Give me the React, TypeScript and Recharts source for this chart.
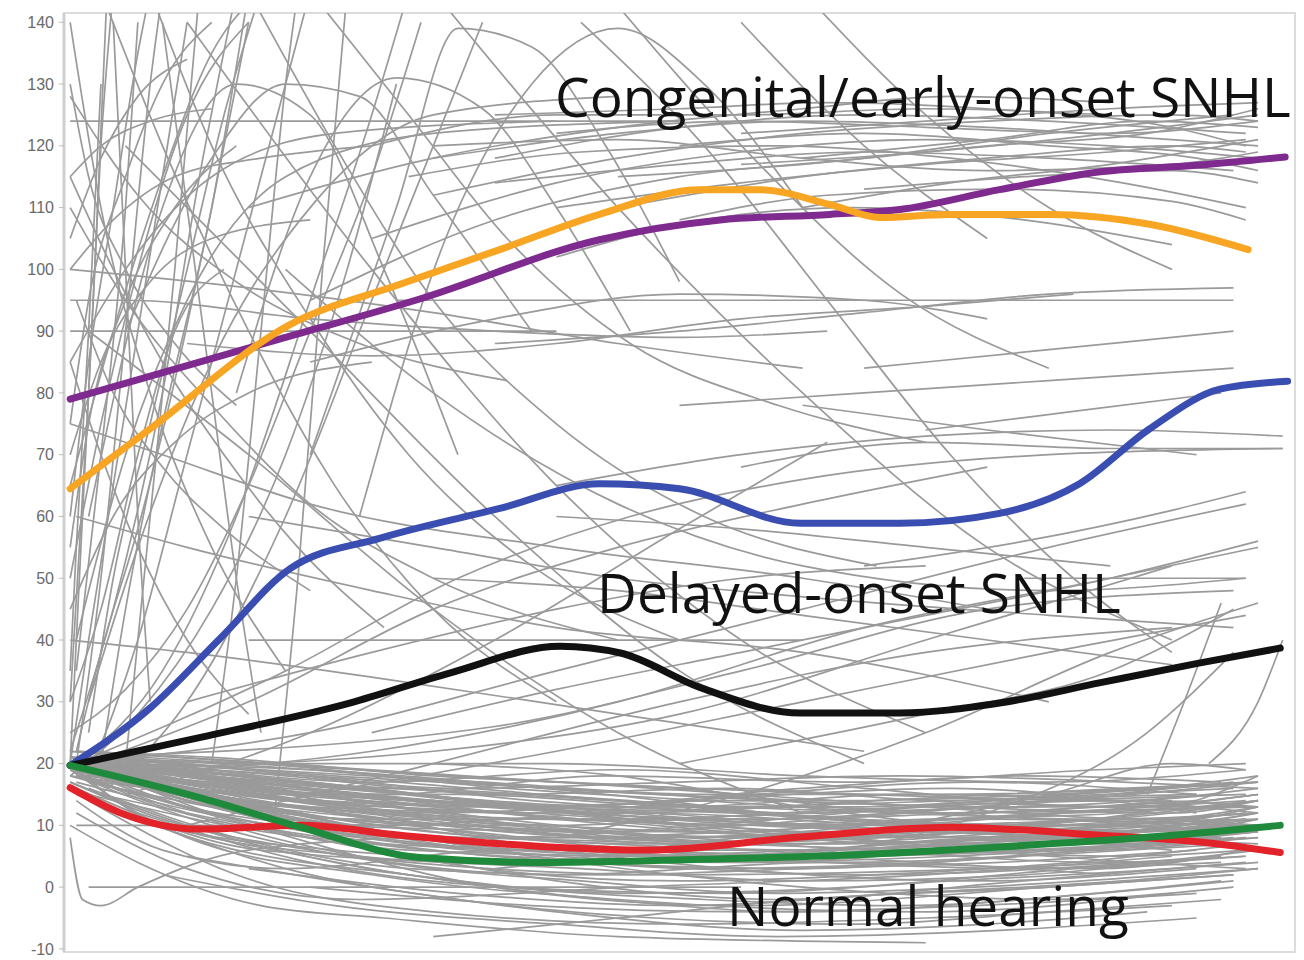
import { LineChart, Line, XAxis, YAxis, ReferenceArea } from 'recharts';

type P = [number, number];

// y-axis ticks (dB HL)
const yTicks = [-10, 0, 10, 20, 30, 40, 50, 60, 70, 80, 90, 100, 110, 120, 130, 140];

// mean trajectories, x is a 0-100 time scale (no labels on the reference)
const purpleMean: P[] = [[0.5, 79], [17.5, 88.7], [28.9, 95.2], [43.5, 104.8], [53.3, 108], [62.2, 108.9], [67.9, 109.7], [76, 112.9], [84.2, 115.8], [92.3, 116.9], [99.2, 118.2]];
const orangeMean: P[] = [[0.5, 64.5], [7, 74.2], [18.4, 91.1], [27.3, 97.6], [35.4, 103.2], [43.5, 108.9], [51.7, 112.9], [56.5, 112.9], [62.2, 110.5], [66.3, 108.4], [71.9, 108.9], [80.1, 108.9], [88.2, 107.3], [96.2, 103.2]];
const blueMean: P[] = [[0.5, 19.7], [7, 29], [12.7, 40.3], [18.4, 51.6], [25.7, 56.5], [35.4, 61.3], [43.5, 65.3], [50, 64.5], [59.8, 58.9], [67.9, 58.9], [76, 60.5], [82.5, 65.3], [88.2, 74.2], [93.9, 80.6], [99.4, 81.9]];
const blackMean: P[] = [[0.5, 19.7], [11, 24.2], [23.2, 29.8], [31.4, 34.7], [40.3, 39], [45.2, 37.9], [51.7, 32.3], [59.8, 28.2], [67.9, 28.2], [76, 29.8], [84.2, 33.1], [92.3, 36.3], [98.8, 38.7]];
const greenMean: P[] = [[0.5, 19.7], [11, 14.5], [19.2, 9.7], [28.9, 4.8], [39.5, 4], [51.7, 4.5], [63.8, 5.2], [76, 6.5], [88.2, 8.1], [98.8, 10]];
const redMean: P[] = [[0.5, 16.1], [4.5, 12.1], [11, 9.4], [19.2, 10], [27.3, 8.4], [39.5, 6.5], [47.6, 6], [59.8, 8.1], [72, 9.7], [84.2, 8.4], [92.3, 7.3], [98.8, 5.6]];

// individual trajectories: normal-hearing bundle
const normalLines: P[][] = [
  [[0.5, 20], [15, 17], [35, 12], [60, 10], [80, 12], [96, 14]],
  [[0.5, 20], [12, 14], [30, 8], [55, 5], [78, 6], [95, 8]],
  [[0.5, 19], [10, 12], [28, 4], [50, 2], [75, 3], [96, 5]],
  [[0.5, 21], [15, 20], [40, 17], [65, 15], [85, 14], [97, 16]],
  [[1, 18], [15, 10], [35, 0], [55, -3], [80, 0], [95, 2]],
  [[1, 20], [20, 18], [45, 14], [70, 10], [90, 9], [97, 11]],
  [[0.5, 22], [18, 20], [40, 20], [60, 18], [80, 17], [96, 19]],
  [[2, 15], [20, 8], [40, 6], [62, 8], [82, 10], [96, 9]],
  [[1, 20], [12, 16], [30, 12], [50, 14], [72, 16], [92, 12]],
  [[0.5, 19], [10, 8], [25, 2], [45, -2], [70, -4], [90, -1]],
  [[1, 21], [20, 15], [45, 9], [65, 6], [85, 4], [97, 6]],
  [[3, 17], [20, 13], [40, 10], [58, 12], [80, 14], [96, 15]],
  [[0.5, 20], [8, 10], [22, 6], [42, 4], [65, 2], [88, 4]],
  [[2, 22], [25, 19], [48, 16], [70, 13], [88, 11], [97, 13]],
  [[1, 16], [16, 6], [35, 4], [55, 8], [75, 11], [94, 10]],
  [[0.5, 20], [14, 18], [32, 14], [52, 10], [74, 8], [96, 10]],
  [[1, 19], [18, 12], [38, 5], [60, 0], [80, -2], [95, 0]],
  [[4, 20], [24, 16], [46, 12], [66, 14], [86, 16], [97, 17]],
  [[0.5, 21], [10, 17], [26, 15], [44, 18], [64, 17], [84, 19], [96, 20]],
  [[2, 14], [14, 2], [30, -4], [50, -6], [70, -5], [90, -3]],
  [[1, 20], [22, 10], [42, 6], [64, 4], [84, 6], [97, 8]],
  [[0.5, 18], [15, 14], [36, 9], [58, 7], [78, 9], [96, 12]],
  [[3, 20], [20, 19], [44, 15], [62, 11], [82, 9], [95, 7]],
  [[1, 22], [12, 21], [30, 18], [50, 16], [70, 12], [92, 14]],
  [[0.5, 20], [10, 14], [26, 10], [46, 12], [66, 10], [90, 6]],
  [[2, 19], [18, 14], [38, 12], [58, 9], [80, 5], [96, 3]],
  [[0.5, 17], [8, 11], [20, 6], [40, 2], [62, 4], [84, 3], [96, 6]],
  [[5, 21], [25, 17], [45, 19], [65, 16], [85, 13], [97, 15]],
  [[1, 20], [20, 16], [40, 13], [60, 16], [78, 18], [94, 17]],
  [[1, 12], [10, 3], [24, -2], [46, 0], [70, 2], [90, 5]],
  [[0.5, 20], [16, 16], [34, 8], [54, 3], [74, 1], [92, 3]],
  [[2, 18], [22, 12], [46, 8], [68, 9], [88, 11], [97, 10]],
  [[0.5, 10], [6, 4], [16, -3], [26, -5], [45, -8], [70, -9]],
  [[3, 20], [30, 14], [55, 11], [75, 12], [96, 13]],
  [[1, 19], [15, 15], [32, 15], [52, 13], [72, 14], [95, 16]],
  [[0.5, 21], [25, 16], [50, 10], [75, 7], [97, 9]],
  [[2, 20], [12, 12], [28, 6], [50, 5], [72, 7], [94, 9]],
  [[1, 14], [8, 6], [18, 3], [36, 6], [60, 5], [85, 2]],
  [[0.5, 20], [20, 14], [38, 10], [58, 7], [80, 8], [97, 12]],
  [[4, 18], [22, 8], [40, 1], [58, -2], [78, 1], [96, 4]],
  [[0.5, 8], [1.5, -2], [3, -3], [6, 0], [15, 6], [30, 8], [50, 7]],
  [[10, 5], [25, 0], [40, -4], [60, -7], [75, -6], [88, -4]],
  [[30, 20], [45, 18], [60, 13], [75, 10], [90, 13], [97, 18]],
  [[35, 3], [50, 6], [65, 9], [80, 15], [90, 20], [96, 19]],
  [[2, 0], [55, 0]],
  [[1, 10], [40, 10]],
];

const normalLines2: P[][] = [
  [[0.5, 20], [10, 16], [22, 11], [38, 8], [55, 9], [72, 11], [88, 13], [97, 15]],
  [[1, 19], [14, 13], [28, 10], [44, 7], [62, 6], [80, 8], [96, 11]],
  [[0.5, 21], [8, 18], [20, 14], [36, 13], [54, 12], [72, 10], [90, 12], [97, 14]],
  [[2, 20], [16, 15], [32, 11], [50, 9], [68, 8], [86, 9], [97, 12]],
  [[0.5, 18], [12, 12], [26, 7], [42, 4], [60, 3], [78, 5], [95, 7]],
  [[1, 20], [18, 17], [36, 15], [54, 13], [72, 12], [90, 14]],
  [[3, 19], [20, 15], [38, 11], [56, 11], [74, 13], [92, 16], [97, 17]],
  [[0.5, 20], [10, 13], [24, 8], [40, 6], [58, 6], [76, 7], [94, 8]],
  [[1, 21], [16, 19], [34, 17], [52, 15], [70, 15], [88, 16], [97, 18]],
  [[0.5, 19], [14, 15], [30, 13], [48, 10], [66, 7], [84, 6], [96, 8]],
  [[2, 17], [18, 11], [34, 8], [52, 10], [70, 13], [88, 14], [97, 13]],
  [[0.5, 20], [12, 17], [28, 16], [46, 14], [64, 11], [82, 10], [96, 12]],
  [[1, 16], [10, 9], [24, 5], [42, 3], [60, 1], [78, 2], [94, 5]],
  [[4, 21], [22, 18], [40, 16], [58, 14], [76, 13], [94, 15]],
  [[0.5, 20], [18, 14], [36, 10], [54, 8], [72, 10], [90, 11], [97, 9]],
  [[2, 20], [14, 14], [30, 9], [48, 7], [66, 8], [84, 11], [97, 14]],
  [[1, 18], [20, 13], [40, 12], [60, 13], [80, 11], [96, 10]],
  [[0.5, 22], [15, 19], [32, 16], [50, 17], [68, 18], [86, 17], [97, 16]],
  [[3, 15], [18, 9], [36, 5], [54, 4], [72, 5], [90, 7]],
  [[1, 20], [12, 15], [26, 12], [44, 11], [62, 12], [80, 13], [96, 13]],
  [[0.5, 19], [16, 12], [34, 6], [52, 3], [70, 4], [88, 7], [97, 9]],
  [[2, 21], [20, 18], [38, 14], [56, 12], [74, 10], [92, 9], [97, 10]],
  [[0.5, 20], [10, 15], [26, 11], [44, 9], [62, 11], [80, 14], [95, 17]],
  [[1, 17], [14, 11], [30, 8], [48, 8], [66, 9], [84, 8], [97, 7]],
  [[5, 20], [24, 15], [42, 12], [60, 10], [78, 9], [96, 11]],
  [[0.5, 21], [12, 18], [28, 15], [46, 13], [64, 13], [82, 15], [97, 17]],
  [[1, 20], [16, 13], [32, 7], [50, 5], [68, 6], [86, 8], [96, 10]],
  [[2, 18], [20, 14], [38, 12], [56, 15], [74, 17], [92, 15]],
  [[0.5, 20], [14, 16], [30, 14], [48, 12], [66, 9], [84, 7], [97, 8]],
  [[6, 12], [20, 4], [36, 0], [54, -1], [72, 1], [90, 3], [97, 4]],
  [[1, 19], [18, 15], [36, 13], [54, 14], [72, 13], [90, 12], [97, 14]],
  [[0.5, 20], [8, 14], [22, 10], [40, 9], [58, 8], [76, 9], [94, 11]],
  [[3, 21], [18, 17], [34, 14], [52, 11], [70, 9], [88, 10], [97, 13]],
  [[1, 15], [12, 7], [28, 2], [46, -1], [64, 0], [82, 3], [96, 5]],
  [[0.5, 20], [20, 16], [40, 11], [60, 8], [80, 7], [97, 9]],
  [[2, 19], [16, 16], [32, 13], [50, 13], [68, 15], [86, 14], [97, 12]],
  [[8, 2], [22, -3], [40, -6], [58, -8], [76, -7], [92, -5]],
  [[20, 0], [38, -3], [56, -4], [74, -3], [92, -1]],
  [[30, -8], [45, -5], [60, -2], [80, 0], [95, 2]],
];

const normalLines3: P[][] = [
  [[0.5, 20], [12, 15], [26, 9], [40, 5], [56, 4], [72, 6], [88, 9], [97, 11]],
  [[1, 21], [14, 17], [30, 12], [46, 8], [62, 7], [78, 8], [94, 10]],
  [[0.5, 19], [8, 13], [20, 8], [34, 3], [50, 1], [66, 2], [82, 4], [96, 7]],
  [[2, 20], [18, 16], [34, 13], [50, 11], [66, 10], [82, 12], [97, 13]],
  [[0.5, 20], [16, 14], [32, 9], [48, 6], [64, 5], [80, 6], [96, 8]],
  [[1, 18], [12, 10], [26, 4], [42, 1], [58, -1], [74, 0], [90, 2], [97, 3]],
  [[3, 21], [20, 19], [36, 16], [52, 14], [68, 12], [84, 11], [97, 12]],
  [[0.5, 20], [10, 15], [24, 12], [38, 9], [54, 7], [70, 6], [86, 5], [96, 6]],
  [[1, 20], [18, 15], [34, 10], [50, 7], [66, 8], [82, 10], [97, 11]],
  [[0.5, 17], [10, 10], [22, 4], [36, 0], [52, -2], [68, -3], [84, -1], [95, 1]],
  [[2, 19], [14, 16], [28, 14], [44, 13], [60, 12], [76, 14], [92, 15]],
  [[0.5, 20], [14, 12], [28, 7], [44, 5], [60, 6], [76, 8], [92, 7], [97, 6]],
  [[1, 22], [16, 20], [32, 17], [48, 15], [64, 14], [80, 15], [96, 17]],
  [[0.5, 20], [8, 16], [18, 12], [32, 10], [48, 9], [64, 9], [80, 10], [97, 12]],
  [[3, 18], [16, 12], [30, 8], [46, 6], [62, 4], [78, 3], [94, 4]],
  [[1, 20], [20, 17], [38, 13], [56, 10], [72, 9], [88, 8], [97, 9]],
  [[0.5, 19], [12, 14], [24, 11], [38, 11], [54, 10], [70, 11], [86, 12], [97, 14]],
  [[2, 16], [14, 8], [28, 3], [44, 2], [60, 3], [76, 4], [92, 6]],
  [[0.5, 21], [18, 18], [36, 15], [54, 16], [70, 14], [86, 13], [97, 15]],
  [[1, 20], [10, 14], [22, 9], [36, 6], [52, 5], [68, 7], [84, 9], [96, 10]],
  [[5, 12], [18, 3], [32, -2], [48, -5], [64, -6], [80, -4], [94, -2]],
  [[12, 8], [28, 2], [44, -2], [60, -4], [78, -2], [94, 1]],
  [[15, 3], [32, -1], [50, -3], [68, -1], [86, 1], [97, 3]],
];

// individual trajectories: delayed / progressive losses
const delayedLines: P[][] = [
  [[0.5, 20], [20, 25], [40, 35], [60, 45], [80, 55], [96, 62]],
  [[1, 18], [25, 22], [45, 30], [65, 42], [85, 50], [97, 55]],
  [[2, 20], [15, 30], [30, 45], [45, 55], [60, 62], [75, 68]],
  [[0.5, 19], [30, 22], [50, 28], [70, 40], [90, 52]],
  [[5, 15], [20, 25], [35, 40], [50, 58], [62, 72]],
  [[1, 20], [18, 35], [32, 50], [46, 60], [60, 66], [80, 70], [99, 71]],
  [[10, 10], [30, 20], [50, 30], [70, 38], [90, 42]],
  [[0.5, 21], [35, 26], [55, 35], [75, 45], [95, 48]],
  [[20, 15], [40, 22], [60, 30], [80, 38], [96, 44]],
  [[40, 8], [55, 15], [70, 25], [85, 38], [97, 46]],
  [[60, 5], [75, 12], [88, 25], [95, 38]],
  [[50, 20], [70, 28], [85, 35], [95, 45]],
  [[88, 15], [91, 30], [94, 46]],
  [[93, 20], [97, 30], [99, 40]],
  [[15, 40], [60, 40]],
  [[78, 50], [96, 50]],
  [[40, 65], [55, 70], [70, 73], [85, 74], [99, 73]],
  [[50, 78], [65, 80], [80, 82], [95, 84]],
  [[65, 84], [80, 87], [95, 90]],
  [[70, 74], [82, 77], [94, 80]],
  [[55, 68], [70, 72], [85, 71], [99, 71]],
  [[60, 78], [75, 74], [92, 70]],
  [[65, 52], [78, 56], [90, 61], [96, 64]],
  [[40, 60], [55, 58], [70, 55], [85, 52]],
  [[10, 30], [25, 38], [40, 45], [55, 50], [70, 52]],
  [[25, 25], [40, 32], [55, 38], [70, 44], [85, 50], [97, 56]],
  [[30, 50], [45, 48], [60, 44], [75, 40], [90, 36]],
  [[15, 60], [30, 55], [45, 50], [60, 47], [80, 44], [95, 42]],
];

// individual trajectories: falling / arcing lines through the middle
const crossingLines: P[][] = [
  [[2, 90], [15, 70], [30, 45], [45, 25], [60, 12]],
  [[5, 120], [20, 90], [35, 60], [50, 35], [65, 20]],
  [[10, 140], [25, 100], [40, 65], [55, 40], [70, 25]],
  [[30, 145], [45, 110], [60, 80], [75, 55], [90, 40]],
  [[42, 140], [52, 120], [62, 95], [72, 70], [82, 50], [90, 38]],
  [[44, 145], [56, 118], [68, 96], [80, 84]],
  [[55, 140], [65, 120], [75, 105]],
  [[60, 145], [70, 125], [80, 110], [90, 100]],
  [[18, 100], [30, 80], [45, 62], [60, 52], [80, 48], [96, 50]],
  [[1, 60], [10, 55], [25, 48], [40, 42], [60, 38], [80, 30]],
  [[0.5, 40], [10, 38], [25, 34], [45, 28], [65, 22]],
  [[0.5, 75], [8, 70], [20, 62], [40, 55], [60, 50], [75, 45]],
  [[0.5, 140], [3, 110], [7, 80], [12, 55], [18, 35]],
  [[3, 145], [8, 120], [15, 90], [22, 65], [30, 45], [40, 30]],
  [[7, 145], [12, 120], [20, 92], [28, 70], [38, 52], [50, 40]],
  [[15, 145], [22, 120], [30, 95], [40, 75], [52, 60], [66, 52]],
  [[20, 145], [28, 125], [36, 105], [46, 88], [58, 78], [70, 72]],
  [[0.5, 128], [6, 112], [14, 98], [24, 88], [36, 82]],
  [[0.5, 110], [5, 95], [12, 78], [20, 62], [30, 50], [45, 40]],
  [[2, 60], [8, 110], [14, 130], [20, 125], [26, 100], [32, 70]],
  [[5, 90], [12, 118], [18, 130], [24, 128], [30, 112], [38, 90]],
  [[14, 80], [20, 115], [27, 131], [34, 126], [40, 110], [46, 90]],
  [[20, 70], [27, 110], [32, 139], [38, 136], [44, 120], [50, 98]],
  [[24, 60], [31, 105], [38, 130], [45, 139], [52, 130], [60, 110]],
  [[0.5, 95], [5, 95], [20, 92], [35, 90], [50, 89], [62, 90]],
  [[20, 85], [35, 92], [50, 96], [65, 95], [75, 92]],
  [[10, 88], [25, 86], [40, 88], [55, 92], [70, 94], [82, 96]],
  [[35, 88], [50, 90], [65, 93], [80, 96], [95, 97]],
  [[0.5, 100], [15, 97], [30, 93], [45, 88], [60, 84]],
  [[0.5, 90], [40, 90]],
  [[27, 95], [95, 95]],
];

// individual trajectories: early steep rise
const earlyLines: P[][] = [
  [[0.5, 20], [1.5, 60], [2.5, 100], [3.5, 145]],
  [[1, 20], [3, 50], [5, 90], [7, 130], [8, 145]],
  [[0.5, 22], [4, 45], [8, 80], [11, 115], [14, 145]],
  [[2, 18], [6, 40], [10, 70], [14, 100], [18, 130], [20, 145]],
  [[1, 20], [8, 35], [14, 60], [20, 95], [25, 125], [28, 145]],
  [[3, 15], [10, 30], [18, 60], [25, 95], [30, 120], [34, 140]],
  [[0.5, 30], [2, 80], [3, 120], [4, 145]],
  [[5, 20], [7, 60], [9, 100], [11, 145]],
  [[0.5, 65], [4, 90], [8, 115], [12, 135], [16, 145]],
  [[12, 20], [14, 50], [16, 90], [18, 130], [19, 145]],
  [[17, 10], [19, 50], [21, 100], [23, 145]],
  [[0.5, 50], [3, 75], [6, 100], [10, 125], [15, 140]],
  [[2, 30], [6, 55], [12, 85], [20, 110], [30, 125], [45, 128]],
  [[1, 40], [5, 70], [10, 95], [18, 115], [30, 122], [50, 124]],
  [[0.5, 85], [5, 100], [12, 115], [22, 122], [40, 124]],
  [[0.5, 30], [3, 45], [6, 70], [9, 90], [13, 100]],
  [[0.5, 45], [4, 60], [9, 72], [15, 80], [25, 85]],
  [[0.5, 55], [2, 75], [5, 95], [9, 110], [14, 120]],
  [[0.5, 70], [3, 85], [7, 98], [12, 105], [20, 108]],
  [[0.5, 100], [4, 108], [9, 115], [16, 118], [25, 120]],
  [[0.5, 115], [3, 120], [7, 124], [12, 126]],
  [[1, 35], [3, 70], [5, 110], [6, 140]],
  [[0.5, 25], [5, 32], [10, 45], [15, 65], [20, 90], [25, 115], [29, 140]],
  [[0.5, 20], [2, 40], [4, 65], [6, 90], [8, 115], [10, 140]],
  [[1, 22], [3, 38], [6, 58], [9, 82], [12, 110], [15, 140]],
  [[0.5, 18], [6, 28], [12, 45], [18, 70], [23, 100], [27, 130]],
  [[2, 25], [4, 50], [7, 75], [10, 100], [13, 125], [16, 145]],
  [[0.5, 35], [1, 55], [2, 90], [3, 130]],
  [[3, 20], [5, 45], [8, 75], [12, 110], [15, 145]],
  [[0.5, 60], [2, 85], [4, 110], [6, 135], [7, 145]],
  [[0.5, 75], [2, 95], [5, 115], [8, 130], [12, 140]],
  [[0.5, 105], [3, 118], [6, 128], [10, 134]],
  [[0.5, 130], [2, 115], [5, 100], [9, 88], [14, 78]],
  [[1, 95], [4, 80], [8, 68], [13, 58], [20, 48]],
  [[0.5, 85], [3, 70], [6, 55], [10, 40], [15, 28]],
  [[0.5, 115], [4, 100], [8, 85], [13, 70], [19, 55], [26, 42]],
  [[8, 140], [10, 110], [12, 80], [14, 50], [16, 25]],
  [[4, 140], [5, 100], [6, 60], [7, 30]],
];

// individual trajectories: congenital plateau
const plateauLines: P[][] = [
  [[0.5, 124], [50, 124]],
  [[30, 112], [45, 118], [60, 122], [75, 124], [90, 125], [97, 124]],
  [[35, 118], [50, 123], [65, 125], [80, 124], [96, 122]],
  [[25, 105], [40, 114], [55, 119], [70, 121], [85, 120], [97, 118]],
  [[30, 120], [45, 121], [60, 118], [75, 116], [90, 117], [97, 119]],
  [[40, 110], [55, 114], [70, 117], [85, 119], [96, 121]],
  [[20, 95], [35, 108], [50, 115], [65, 118], [80, 122], [95, 125]],
  [[35, 125], [50, 126], [62, 127], [75, 126], [90, 123], [96, 120]],
  [[45, 115], [60, 117], [75, 120], [88, 122], [97, 126]],
  [[28, 115], [42, 119], [58, 120], [72, 118], [86, 114], [96, 110]],
  [[50, 108], [62, 112], [76, 113], [90, 111], [96, 108]],
  [[60, 118], [75, 121], [88, 124], [97, 123]],
  [[15, 110], [30, 118], [45, 123], [60, 126], [72, 128], [85, 127]],
  [[55, 122], [70, 124], [85, 126], [97, 127]],
  [[65, 113], [78, 115], [90, 116], [97, 114]],
  [[40, 102], [52, 108], [64, 110], [78, 108], [90, 104]],
  [[30, 118], [45, 122], [60, 124], [75, 123], [90, 121], [97, 120]],
  [[40, 122], [55, 124], [70, 123], [85, 122], [97, 124]],
  [[45, 110], [60, 115], [75, 118], [90, 120], [96, 119]],
  [[35, 114], [50, 117], [65, 119], [80, 118], [95, 116]],
  [[50, 120], [65, 122], [80, 120], [92, 118], [97, 116]],
  [[55, 117], [70, 119], [85, 122], [97, 125]],
  [[25, 120], [40, 125], [55, 125], [70, 126], [85, 125]],
  [[60, 110], [72, 114], [85, 117], [97, 121]],
];

const toPts = (line: P[]) => line.map(([x, y]) => ({ x, y }));

const allGray = [...normalLines, ...normalLines2, ...normalLines3, ...delayedLines, ...crossingLines, ...earlyLines, ...plateauLines];

const means = [
  { data: purpleMean, color: '#7f2a8e' },
  { data: orangeMean, color: '#f7a522' },
  { data: blueMean, color: '#3a4db0' },
  { data: blackMean, color: '#111111' },
  { data: redMean, color: '#e3232a' },
  { data: greenMean, color: '#1f8a3b' },
];

const App = () => {
  return (
    <div style={{ position: 'absolute', left: 0, top: 0, width: 1304, height: 960, background: '#fff' }}>
      <LineChart width={1304} height={960} margin={{ top: 13, right: 9, bottom: 8, left: 0 }}>
        <XAxis type="number" dataKey="x" domain={[0, 100]} hide allowDataOverflow />
        <YAxis
          type="number"
          domain={[-10.5, 141.5]}
          ticks={yTicks}
          interval={0}
          allowDataOverflow
          width={64}
          tickSize={5}
          tickMargin={5}
          axisLine={{ stroke: '#cfcfcf', strokeWidth: 3 }}
          tickLine={{ stroke: '#bdbdbd' }}
          tick={{ fill: '#6a6a6a', fontSize: 16, fontFamily: 'Liberation Sans, Arial, sans-serif' }}
        />
        <ReferenceArea x1={0} x2={100} y1={-10.5} y2={141.5} fill="none" stroke="#dcdcdc" strokeWidth={2} />
        {allGray.map((line, i) => (
          <Line
            key={'g' + i}
            data={toPts(line)}
            dataKey="y"
            type="monotone"
            stroke="#9a9a9a"
            strokeWidth={1.7}
            dot={false}
            activeDot={false}
            isAnimationActive={false}
          />
        ))}
        {means.map((m, i) => (
          <Line
            key={'m' + i}
            data={toPts(m.data)}
            dataKey="y"
            type="monotone"
            stroke={m.color}
            strokeWidth={7}
            strokeLinecap="round"
            dot={false}
            activeDot={false}
            isAnimationActive={false}
          />
        ))}
      </LineChart>
      <svg width={1304} height={960} style={{ position: 'absolute', left: 0, top: 0, pointerEvents: 'none' }}>
        <g fontFamily="'Open Sans', 'Noto Sans', sans-serif" fill="#111">
          <text x={555} y={117} fontSize={55}>Congenital/early-onset SNHL</text>
          <text x={597} y={613} fontSize={55}>Delayed-onset SNHL</text>
          <text x={727} y={926} fontSize={55}>Normal hearing</text>
        </g>
      </svg>
    </div>
  );
};

export default App;
